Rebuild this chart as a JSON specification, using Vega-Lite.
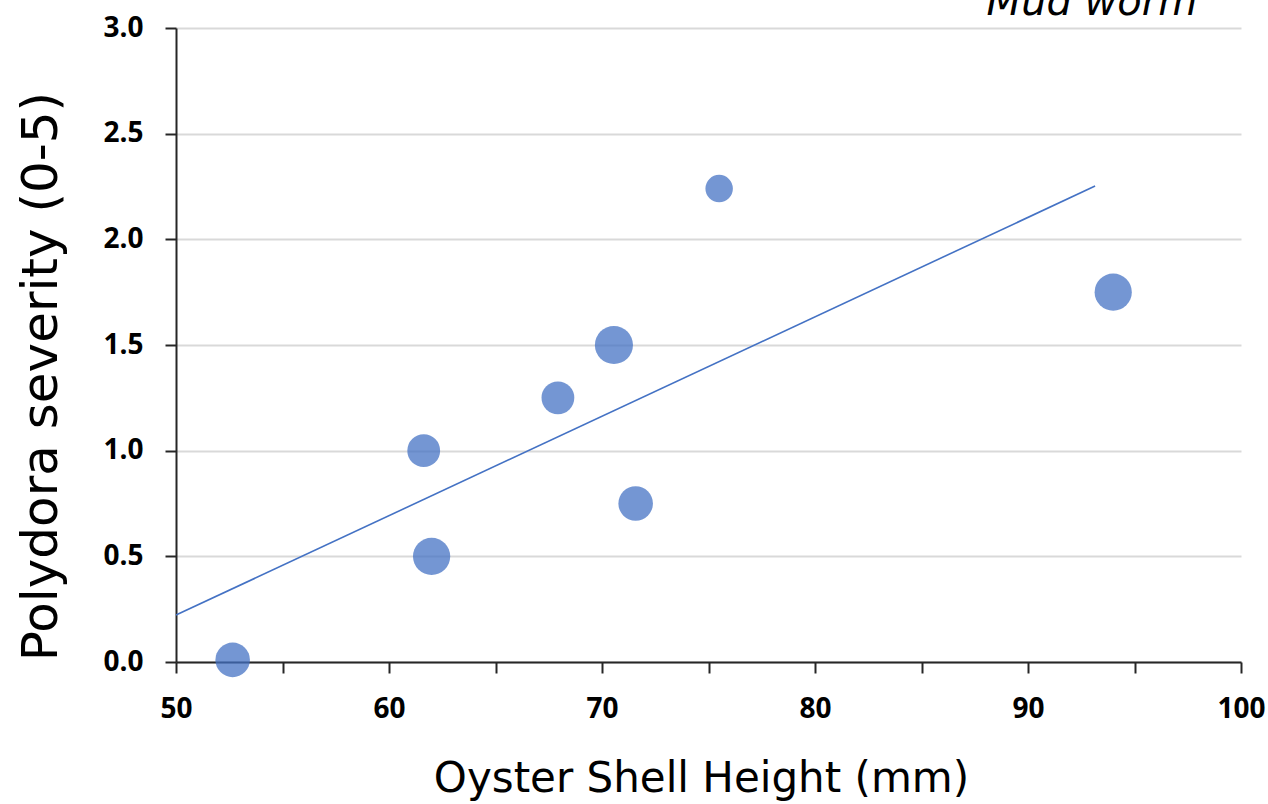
{
  "$schema": "https://vega.github.io/schema/vega-lite/v6.json",
  "width": 1065,
  "height": 634,
  "autosize": "none",
  "padding": {"left": 176, "top": 28, "right": 27, "bottom": 142},
  "background": "white",
  "config": {"view": {"stroke": null}},
  "datasets": {
    "pts": [
      {"height": 52.66, "severity": 0.01, "w": 1195},
      {"height": 61.63, "severity": 1.0, "w": 1075},
      {"height": 62.0, "severity": 0.5, "w": 1385},
      {"height": 67.93, "severity": 1.25, "w": 1075},
      {"height": 70.56, "severity": 1.5, "w": 1452},
      {"height": 71.58, "severity": 0.75, "w": 1195},
      {"height": 75.5, "severity": 2.24, "w": 755},
      {"height": 94.0, "severity": 1.75, "w": 1385}
    ],
    "trend": [
      {"height": 50.0, "severity": 0.222},
      {"height": 93.15, "severity": 2.252}
    ],
    "note": [
      {"height": 93.0, "severity": 3.0615, "label": "Mud worm"}
    ]
  },
  "layer": [
    {
      "data": {"name": "trend"},
      "mark": {"type": "line", "color": "#4472C4", "strokeWidth": 1.6},
      "encoding": {
        "x": {
          "field": "height",
          "type": "quantitative",
          "scale": {"domain": [50, 100], "nice": false, "zero": false},
          "axis": {
            "values": [50, 55, 60, 65, 70, 75, 80, 85, 90, 95, 100],
            "labelExpr": "datum.value % 10 === 0 ? datum.label : ''",
            "grid": false,
            "domainColor": "#262626",
            "domainWidth": 2,
            "tickColor": "#262626",
            "tickWidth": 2,
            "tickSize": 11,
            "labelFont": "Open Sans",
            "labelFontWeight": "bold",
            "labelFontSize": 28,
            "labelColor": "#000000",
            "labelBaseline": "alphabetic",
            "labelPadding": 44,
            "labelFlush": false,
            "labelOverlap": false,
            "title": "Oyster Shell Height (mm)",
            "titleFont": "DejaVu Sans",
            "titleFontSize": 42,
            "titleFontWeight": "normal",
            "titleColor": "#000000",
            "titleBaseline": "alphabetic",
            "titleX": 525,
            "titleY": 129
          }
        },
        "y": {
          "field": "severity",
          "type": "quantitative",
          "scale": {"domain": [0, 3], "nice": false},
          "axis": {
            "values": [0, 0.5, 1, 1.5, 2, 2.5, 3],
            "format": ".1f",
            "grid": true,
            "gridColor": "#d9d9d9",
            "gridWidth": 2,
            "domainColor": "#262626",
            "domainWidth": 2,
            "tickColor": "#262626",
            "tickWidth": 2,
            "tickSize": 11,
            "labelFont": "Open Sans",
            "labelFontWeight": "bold",
            "labelFontSize": 28,
            "labelColor": "#000000",
            "labelPadding": 22,
            "labelFlush": false,
            "title": "Polydora severity (0-5)",
            "titleFont": "DejaVu Sans",
            "titleFontSize": 50,
            "titleFontWeight": "normal",
            "titleColor": "#000000",
            "titleAngle": -90,
            "titleAlign": "center",
            "titleBaseline": "alphabetic",
            "titleX": -120,
            "titleY": 348
          }
        }
      }
    },
    {
      "data": {"name": "pts"},
      "mark": {"type": "circle", "color": "#4472C4", "opacity": 0.74},
      "encoding": {
        "x": {"field": "height", "type": "quantitative"},
        "y": {"field": "severity", "type": "quantitative"},
        "size": {
          "field": "w",
          "type": "quantitative",
          "scale": {"domain": [0, 1500], "range": [0, 1500]},
          "legend": null
        }
      }
    },
    {
      "data": {"name": "note"},
      "mark": {
        "type": "text",
        "font": "DejaVu Sans",
        "fontSize": 40,
        "fontStyle": "italic",
        "align": "center",
        "baseline": "alphabetic",
        "color": "#000000"
      },
      "encoding": {
        "x": {"field": "height", "type": "quantitative"},
        "y": {"field": "severity", "type": "quantitative"},
        "text": {"field": "label"}
      }
    }
  ]
}
